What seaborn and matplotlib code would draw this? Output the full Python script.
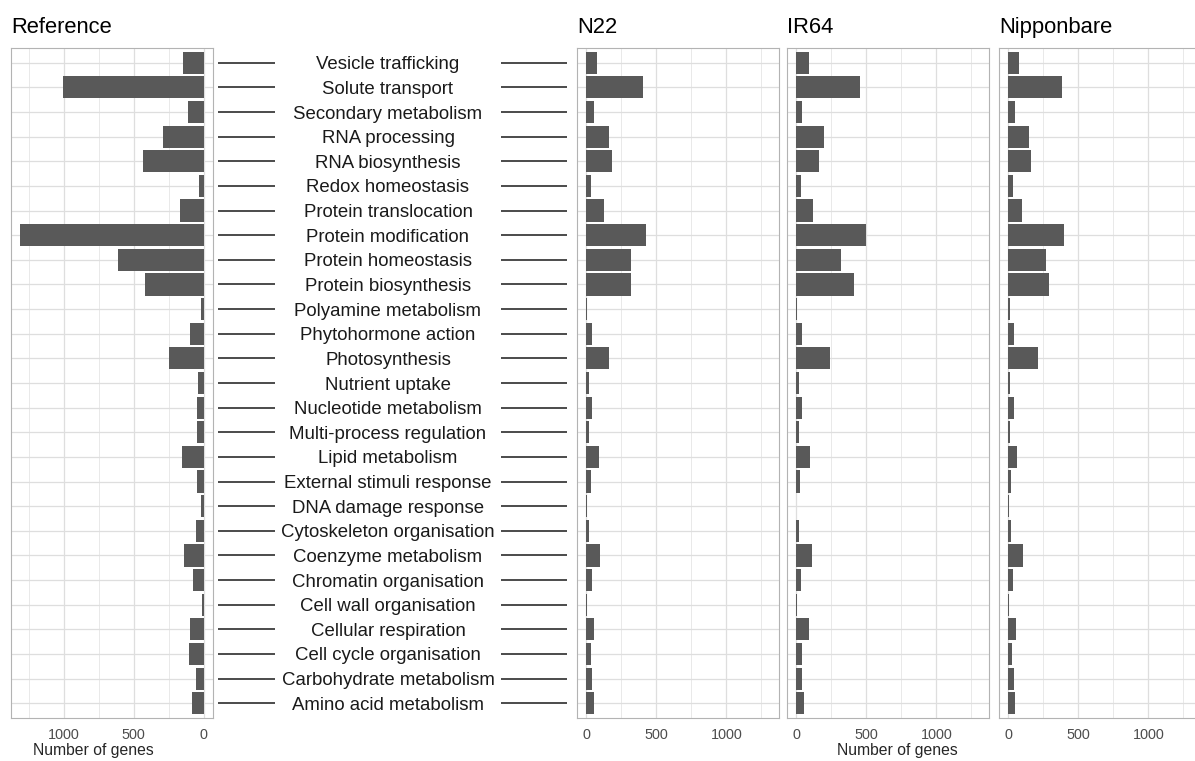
import matplotlib
matplotlib.use("Agg")
import matplotlib.pyplot as plt
from matplotlib.ticker import FixedLocator
import seaborn as sns
import pandas as pd

# MapMan bin categories (top to bottom)
categories = [
    "Vesicle trafficking", "Solute transport", "Secondary metabolism",
    "RNA processing", "RNA biosynthesis", "Redox homeostasis",
    "Protein translocation", "Protein modification", "Protein homeostasis",
    "Protein biosynthesis", "Polyamine metabolism", "Phytohormone action",
    "Photosynthesis", "Nutrient uptake", "Nucleotide metabolism",
    "Multi-process regulation", "Lipid metabolism", "External stimuli response",
    "DNA damage response", "Cytoskeleton organisation", "Coenzyme metabolism",
    "Chromatin organisation", "Cell wall organisation", "Cellular respiration",
    "Cell cycle organisation", "Carbohydrate metabolism", "Amino acid metabolism",
]

# Number of genes per category
reference = [146, 1005, 111, 288, 433, 36, 170, 1311, 615, 419, 19, 99, 248, 38,
             52, 47, 158, 52, 21, 54, 144, 78, 11, 99, 104, 54, 82]
n22 = [80, 406, 56, 164, 181, 33, 124, 427, 317, 317, 9, 40, 162, 19,
       38, 21, 89, 31, 3, 19, 96, 42, 7, 59, 35, 40, 56]
ir64 = [92, 454, 45, 200, 160, 31, 120, 500, 320, 411, 9, 42, 244, 23,
        42, 19, 99, 28, 0, 21, 113, 35, 9, 89, 38, 38, 56]
nipponbare = [78, 383, 47, 150, 160, 33, 101, 400, 273, 294, 12, 40, 214, 14,
              38, 14, 63, 21, 5, 19, 106, 33, 5, 59, 28, 38, 49]

panel_titles = ["Reference", "N22", "IR64", "Nipponbare"]
axis_label = "Number of genes"
x_major = [0, 500, 1000]
x_minor = [250, 750, 1250]

sns.set_style("white")
plt.rcParams["font.family"] = ["Liberation Sans", "DejaVu Sans"]

W, H = 1195, 761
BAR = "#595959"
BORDER = "#B3B3B3"
XMAX = max(reference) * 1.05
XMIN = -max(reference) * 0.05
n = len(categories)

fig = plt.figure(figsize=(W / 100, H / 100), dpi=100)


def px_axes(x0, x1, y0=48, y1=718):
    return fig.add_axes([x0 / W, 1 - y1 / H, (x1 - x0) / W, (y1 - y0) / H])


def draw_panel(ax, values, reverse=False):
    df = pd.DataFrame({"category": categories, "genes": values})
    sns.barplot(data=df, x="genes", y="category", order=categories, orient="h",
                color=BAR, saturation=1, width=0.9, linewidth=0, ax=ax, zorder=3)
    if reverse:
        ax.set_xlim(XMAX, XMIN)
    else:
        ax.set_xlim(XMIN, XMAX)
    ax.set_ylim(n - 0.4, -0.6)
    ax.xaxis.set_major_locator(FixedLocator(x_major))
    ax.xaxis.set_minor_locator(FixedLocator(x_minor))
    ax.grid(True, which="major", axis="both", color="#DEDEDE", lw=0.9, zorder=0)
    ax.grid(True, which="minor", axis="x", color="#E9E9E9", lw=0.7, zorder=0)
    ax.set_axisbelow(True)
    ax.set_yticks(range(n))
    ax.set_yticklabels([])
    ax.tick_params(axis="y", length=0)
    ax.tick_params(axis="x", which="major", length=3, width=0.6, color=BORDER,
                   labelcolor="#4D4D4D", labelsize=10.4, pad=4)
    ax.tick_params(axis="x", which="minor", length=0)
    for s in ax.spines.values():
        s.set_visible(True)
        s.set_color(BORDER)
        s.set_linewidth(0.8)
    ax.set_xlabel("")
    ax.set_ylabel("")


# Reference panel, mirrored
ax_ref = px_axes(11, 213)
draw_panel(ax_ref, reference, reverse=True)

# Cultivar panels
panel_edges = [(577, 779), (787, 989), (999, 1201)]
for (x0, x1), vals in zip(panel_edges, [n22, ir64, nipponbare]):
    draw_panel(px_axes(x0, x1), vals)

# Shared category labels between the two halves
ax_mid = px_axes(213, 577)
ax_mid.set_xlim(213, 577)
ax_mid.set_ylim(n - 0.4, -0.6)
ax_mid.axis("off")
ypos = list(range(n))
ax_mid.hlines(ypos, 218, 275, color="#1A1A1A", lw=1.1)
ax_mid.hlines(ypos, 501, 567, color="#1A1A1A", lw=1.1)
for i, cat in enumerate(categories):
    ax_mid.text(388, i, cat, ha="center", va="center_baseline", fontsize=13.4,
                color="#1A1A1A")

# Panel titles
for title, x in zip(panel_titles, [11, 577, 787, 999]):
    fig.text(x / W, 1 - 33 / H, title, ha="left", va="baseline", fontsize=15.8, color="black")

# Axis titles
fig.text(93 / W, 1 - 750 / H, axis_label, ha="center", va="center", fontsize=11.3)
fig.text(897 / W, 1 - 750 / H, axis_label, ha="center", va="center", fontsize=11.3)

fig.savefig("out.png", dpi=100, facecolor="white")
